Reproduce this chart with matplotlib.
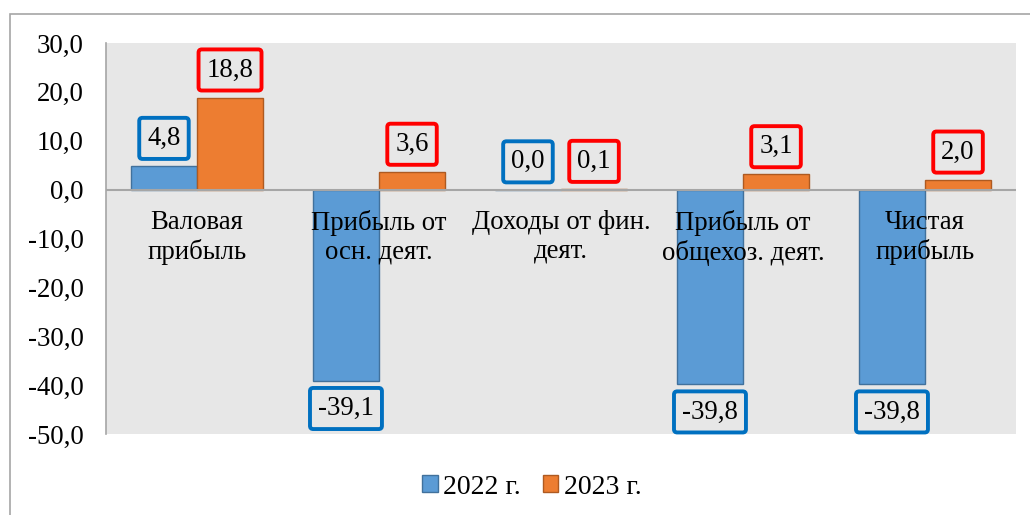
import matplotlib
matplotlib.use("Agg")
import matplotlib.pyplot as plt
from matplotlib.patches import Rectangle, Patch
import numpy as np

categories = ["Валовая\nприбыль", "Прибыль от\nосн. деят.", "Доходы от фин.\nдеят.",
              "Прибыль от\nобщехоз. деят.", "Чистая\nприбыль"]
series_names = ["2022 г.", "2023 г."]
values_2022 = [4.8, -39.1, 0.0, -39.8, -39.8]
values_2023 = [18.8, 3.6, 0.1, 3.1, 2.0]
yticks = [30, 20, 10, 0, -10, -20, -30, -40, -50]

plt.rcParams['font.family'] = ['Liberation Serif', 'DejaVu Serif']
FS = 19.3

fig = plt.figure(figsize=(10.30, 5.15), dpi=100)
fig.patch.set_facecolor('white')
# outer frame
fig.patches.append(Rectangle((10/1030, -0.2), 1.2, 0.2 + (1 - 14/515), transform=fig.transFigure,
                             fill=False, edgecolor='#A6A6A6', linewidth=1.2))

ax = fig.add_axes([106/1030, 1 - 434/515, 910/1030, 391/515])
ax.set_facecolor('#E7E7E7')

x = np.arange(len(categories))
w = 0.363
c_blue, c_orange = '#5B9BD5', '#ED7D31'
b1 = ax.bar(x - w/2, values_2022, w, color=c_blue, edgecolor='#41719C', linewidth=1.0, zorder=2)
b2 = ax.bar(x + w/2, values_2023, w, color=c_orange, edgecolor='#AE5A21', linewidth=1.0, zorder=2)

ax.set_xlim(-0.5, len(categories) - 0.5)
ax.set_ylim(-50, 30)
ax.set_yticks(yticks)
ax.set_yticklabels([f"{t:.1f}".replace('.', ',') for t in yticks], fontsize=FS)
ax.tick_params(axis='y', length=0, pad=16)
ax.set_xticks([])
for s in ['top', 'right', 'bottom']:
    ax.spines[s].set_visible(False)
ax.spines['left'].set_color('#A6A6A6')
ax.spines['left'].set_linewidth(1.2)
ax.axhline(0, color='#A6A6A6', linewidth=1.5, zorder=3)

def label(xs, vals, edge):
    for xi, v in zip(xs, vals):
        off = 20 if v >= 0 else -20
        ax.annotate(f"{v:.1f}".replace('.', ','), xy=(xi, v), xytext=(0, off),
                    textcoords='offset points', ha='center', va='center', fontsize=FS,
                    zorder=5,
                    bbox=dict(boxstyle='round,pad=0.3,rounding_size=0.12', facecolor='#E7E7E7',
                              edgecolor=edge, linewidth=2.8))

label(x - w/2, values_2022, '#0070C0')
label(x + w/2, values_2023, '#FF0000')

for xi, c in zip(x, categories):
    ax.text(xi, -4.2, c, ha='center', va='top', fontsize=FS, linespacing=1.2, zorder=6)

handles = [Patch(facecolor=c_blue, edgecolor='#41719C'), Patch(facecolor=c_orange, edgecolor='#AE5A21')]
fig.legend(handles, series_names, loc='center', bbox_to_anchor=(532/1030, 1 - 487/515), ncol=2,
           frameon=False, fontsize=20, handlelength=0.55, handleheight=0.55,
           handletextpad=0.2, columnspacing=0.8)

fig.savefig("out.png", dpi=100)
